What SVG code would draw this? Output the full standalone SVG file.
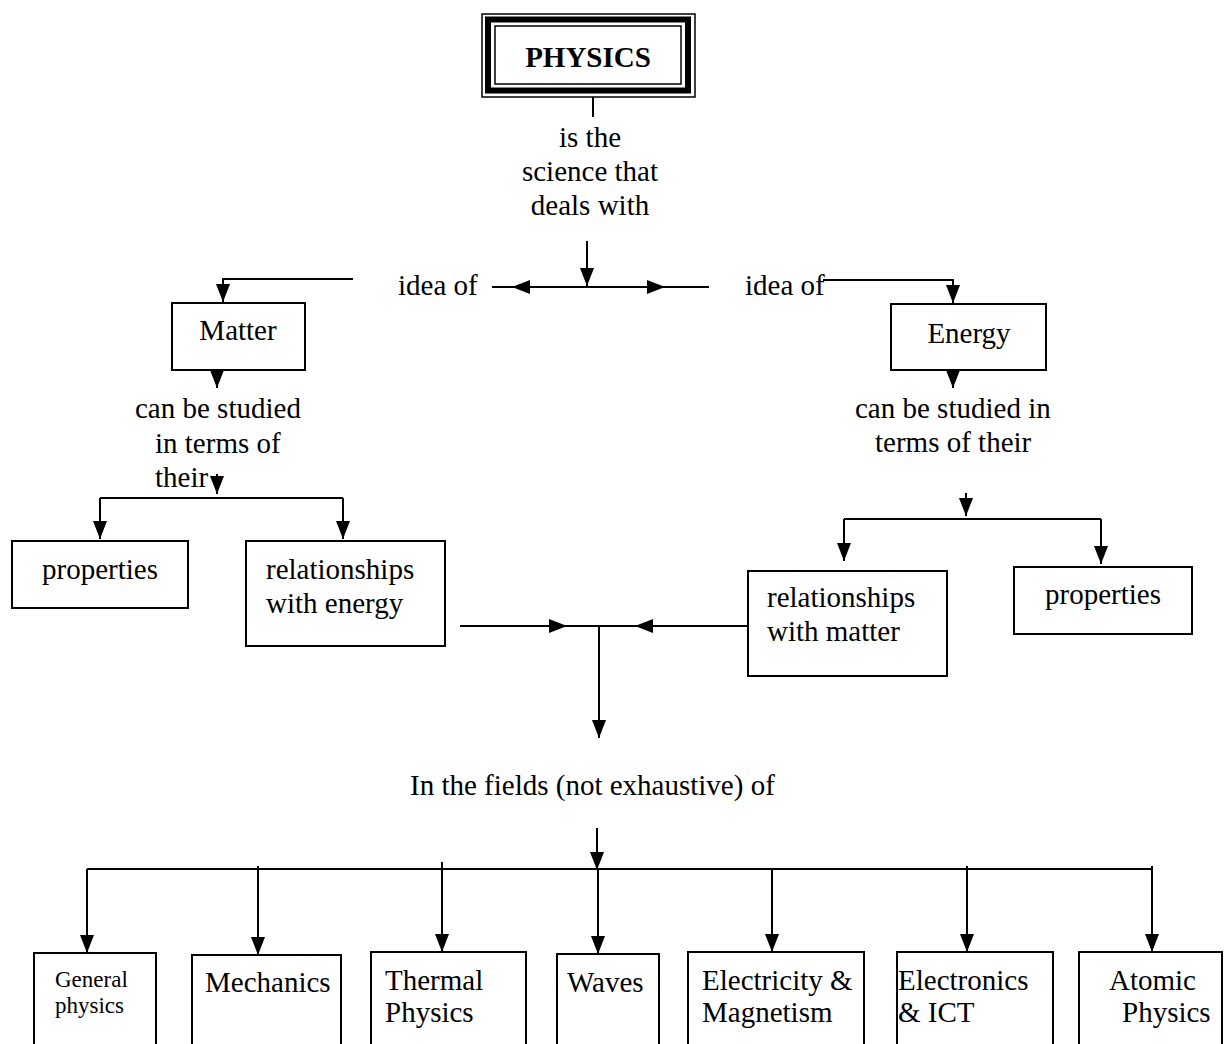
<svg xmlns="http://www.w3.org/2000/svg" width="1226" height="1044" viewBox="0 0 1226 1044">
<style>
text{font-family:"Liberation Serif","Times New Roman",serif;font-size:29px;fill:#000}
.b{font-weight:bold}
.m{text-anchor:middle}
.s{font-size:23px}
.box{fill:#fff;stroke:#000;stroke-width:2}
.ln{fill:none;stroke:#000;stroke-width:2}
.ar{fill:none;stroke:#000;stroke-width:2;marker-end:url(#ah)}
</style>
<defs>
<marker id="ah" viewBox="0 0 18 14" refX="18" refY="7" markerWidth="18" markerHeight="14" markerUnits="userSpaceOnUse" orient="auto">
<path d="M0,0 L18,7 L0,14 z" fill="#000"/>
</marker>
</defs>
<rect width="1226" height="1044" fill="#fff"/>

<g id="connectors">
<line class="ln" x1="593" y1="97" x2="593" y2="117"/>
<line class="ar" x1="587" y1="241" x2="587" y2="286"/>
<line class="ln" x1="492" y1="287" x2="512" y2="287"/>
<line class="ar" x1="587" y1="287" x2="512" y2="287"/>
<line class="ar" x1="587" y1="287" x2="665" y2="287"/>
<line class="ln" x1="665" y1="287" x2="709" y2="287"/>
<polyline class="ar" points="353,279 223,279 223,302"/>
<polyline class="ar" points="823,280 953,280 953,303"/>
<line class="ar" x1="217" y1="366" x2="217" y2="388"/>
<line class="ar" x1="953" y1="366" x2="953" y2="388"/>
<line class="ar" x1="217" y1="474" x2="217" y2="494"/>
<line class="ln" x1="100" y1="498" x2="343" y2="498"/>
<line class="ar" x1="100" y1="498" x2="100" y2="539"/>
<line class="ar" x1="343" y1="498" x2="343" y2="539"/>
<line class="ar" x1="966" y1="493" x2="966" y2="516"/>
<line class="ln" x1="844" y1="519" x2="1101" y2="519"/>
<line class="ar" x1="844" y1="519" x2="844" y2="561"/>
<line class="ar" x1="1101" y1="519" x2="1101" y2="564"/>
<line class="ar" x1="460" y1="626" x2="567" y2="626"/>
<line class="ln" x1="567" y1="626" x2="635" y2="626"/>
<line class="ar" x1="748" y1="626" x2="635" y2="626"/>
<line class="ar" x1="599" y1="626" x2="599" y2="738"/>
<line class="ar" x1="597" y1="828" x2="597" y2="870"/>
<line class="ln" x1="87" y1="869" x2="1152" y2="869"/>
<line class="ar" x1="87" y1="869" x2="87" y2="953"/>
<line class="ar" x1="258" y1="866" x2="258" y2="955"/>
<line class="ar" x1="442" y1="862" x2="442" y2="952"/>
<line class="ar" x1="598" y1="869" x2="598" y2="954"/>
<line class="ar" x1="772" y1="869" x2="772" y2="952"/>
<line class="ar" x1="967" y1="866" x2="967" y2="952"/>
<line class="ar" x1="1152" y1="866" x2="1152" y2="952"/>
</g>

<g id="physics">
<rect x="482" y="14" width="213" height="83" fill="#fff" stroke="#000" stroke-width="1.5"/>
<rect x="488" y="19.5" width="200" height="71" fill="none" stroke="#000" stroke-width="6"/>
<rect x="495" y="26" width="186" height="58" fill="none" stroke="#000" stroke-width="1.5"/>
<text class="b m" x="588" y="67">PHYSICS</text>
</g>

<g id="label-science">
<text class="m" x="590" y="147">is the</text>
<text class="m" x="590" y="181">science that</text>
<text class="m" x="590" y="215">deals with</text>
</g>
<g id="label-idea-left"><text x="398" y="295">idea of</text></g>
<g id="label-idea-right"><text x="745" y="295">idea of</text></g>

<g id="matter">
<rect class="box" x="172" y="303" width="133" height="67"/>
<text class="m" x="238" y="340">Matter</text>
</g>
<g id="energy">
<rect class="box" x="891" y="304" width="155" height="66"/>
<text class="m" x="969" y="343">Energy</text>
</g>

<g id="label-matter-study">
<text x="135" y="418">can be studied</text>
<text x="155" y="453">in terms of</text>
<text x="155" y="487">their</text>
</g>
<g id="label-energy-study">
<text x="855" y="418">can be studied in</text>
<text x="875" y="452">terms of their</text>
</g>

<g id="properties-left">
<rect class="box" x="12" y="541" width="176" height="67"/>
<text x="42" y="579">properties</text>
</g>
<g id="relationships-energy">
<rect class="box" x="246" y="541" width="199" height="105"/>
<text x="266" y="579">relationships</text>
<text x="266" y="613">with energy</text>
</g>
<g id="relationships-matter">
<rect class="box" x="748" y="571" width="199" height="105"/>
<text x="767" y="607">relationships</text>
<text x="767" y="641">with matter</text>
</g>
<g id="properties-right">
<rect class="box" x="1014" y="567" width="178" height="67"/>
<text x="1045" y="604">properties</text>
</g>

<g id="label-fields"><text x="410" y="795">In the fields (not exhaustive) of</text></g>

<g id="general-physics">
<rect class="box" x="34" y="953" width="122" height="110"/>
<text class="s" x="55" y="987">General</text>
<text class="s" x="55" y="1013">physics</text>
</g>
<g id="mechanics">
<rect class="box" x="192" y="955" width="149" height="110"/>
<text x="205" y="992">Mechanics</text>
</g>
<g id="thermal-physics">
<rect class="box" x="371" y="952" width="155" height="110"/>
<text x="385" y="990">Thermal</text>
<text x="385" y="1022">Physics</text>
</g>
<g id="waves">
<rect class="box" x="557" y="954" width="102" height="110"/>
<text x="567" y="992">Waves</text>
</g>
<g id="electricity-magnetism">
<rect class="box" x="688" y="952" width="176" height="110"/>
<text x="702" y="990">Electricity &amp;</text>
<text x="702" y="1022">Magnetism</text>
</g>
<g id="electronics-ict">
<rect class="box" x="897" y="952" width="156" height="110"/>
<text x="898" y="990">Electronics</text>
<text x="898" y="1022">&amp; ICT</text>
</g>
<g id="atomic-physics">
<rect class="box" x="1079" y="952" width="143" height="110"/>
<text x="1109" y="990">Atomic</text>
<text x="1122" y="1022">Physics</text>
</g>
</svg>
